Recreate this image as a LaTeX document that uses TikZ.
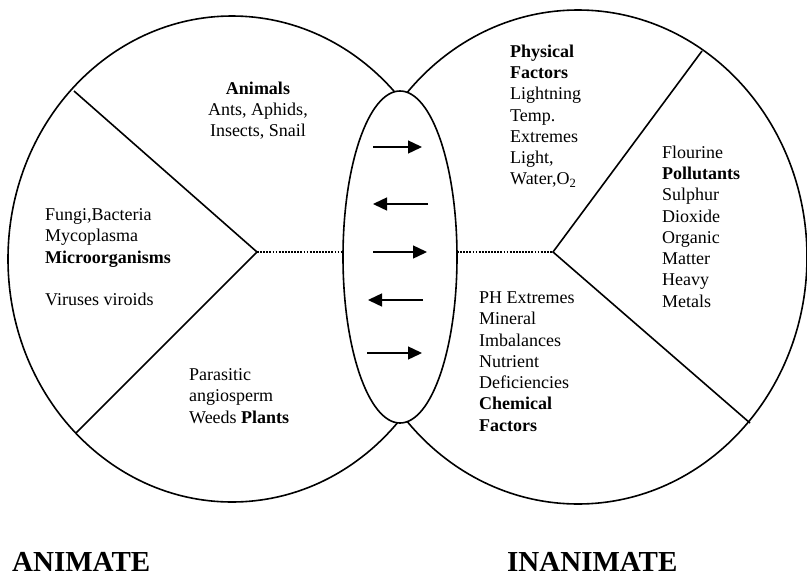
\documentclass[tikz,border=0pt]{standalone}
\usepackage{fontspec}
\setmainfont{Liberation Serif}
\usetikzlibrary{shapes.geometric,arrows.meta}
\begin{document}
\begin{tikzpicture}[x=1pt,y=-1pt,
  ring/.style={draw, ellipse, line width=1.6pt, inner sep=0pt, outer sep=0pt},
  wedge/.style={line width=1.6pt},
  dotline/.style={line width=1.9pt, dash pattern=on 1.8pt off 1.3pt},
  flow/.style={line width=1.4pt, -{Triangle[length=14pt,width=13pt]}},
  txt/.style={font=\fontsize{18}{21.3}\selectfont, align=left, inner sep=0pt, anchor=north west},
  title/.style={font=\fontsize{29}{34}\selectfont\bfseries, inner sep=0pt, anchor=base west}]
\useasboundingbox (0,0) rectangle (807,576);

% big circles
\node[ring, minimum width=448pt, minimum height=486pt] (animate) at (232,259) {};
\node[ring, minimum width=458pt, minimum height=494pt] (inanimate) at (578,257) {};

% wedges
\coordinate (apexL) at (257,252);
\coordinate (wLtop) at (74,91);
\coordinate (wLbot) at (76,433);
\coordinate (apexR) at (553,252);
\coordinate (wRtop) at (702,51);
\coordinate (wRbot) at (750,423);
\draw[wedge] (wLtop) -- (apexL) -- (wLbot);
\draw[wedge] (wRtop) -- (apexR) -- (wRbot);

% central ellipse
\node[ring, fill=white, minimum width=114pt, minimum height=332pt] (mid) at (400,257) {};

% dotted links
\draw[dotline] (apexL) -- (apexL -| mid.west);
\draw[dotline] (apexR -| mid.east) -- (apexR);

% arrows
\coordinate (a1s) at (373,147); \coordinate (a1e) at (422,147);
\coordinate (a2s) at (428,204); \coordinate (a2e) at (373,204);
\coordinate (a3s) at (373,252); \coordinate (a3e) at (427,252);
\coordinate (a4s) at (423,300); \coordinate (a4e) at (368,300);
\coordinate (a5s) at (367,353); \coordinate (a5e) at (422,353);
\draw[flow] (a1s) -- (a1e);
\draw[flow] (a2s) -- (a2e);
\draw[flow] (a3s) -- (a3e);
\draw[flow] (a4s) -- (a4e);
\draw[flow] (a5s) -- (a5e);

% texts
\node[txt, align=center, anchor=north] (animals) at (258,81.5) {\textbf{Animals}\\Ants, Aphids,\\Insects, Snail};
\node[txt] (micro) at (45,208.5) {Fungi,Bacteria\\Mycoplasma\\\textbf{Microorganisms}\\[21.3pt]Viruses viroids};
\node[txt] (plants) at (189,368.5) {Parasitic\\angiosperm\\Weeds \textbf{Plants}};
\node[txt] (physical) at (510,44.5) {\textbf{Physical}\\\textbf{Factors}\\Lightning\\Temp.\\Extremes\\Light,\\Water,O\textsubscript{2}};
\node[txt] (pollut) at (662,145.5) {Flourine\\\textbf{Pollutants}\\Sulphur\\Dioxide\\Organic\\Matter\\Heavy\\Metals};
\node[txt] (chem) at (479,291.5) {PH Extremes\\Mineral\\Imbalances\\Nutrient\\Deficiencies\\\textbf{Chemical}\\\textbf{Factors}};

\node[title] (lblA) at (12,571) {ANIMATE};
\node[title] (lblI) at (507,571) {INANIMATE};
\end{tikzpicture}
\end{document}
